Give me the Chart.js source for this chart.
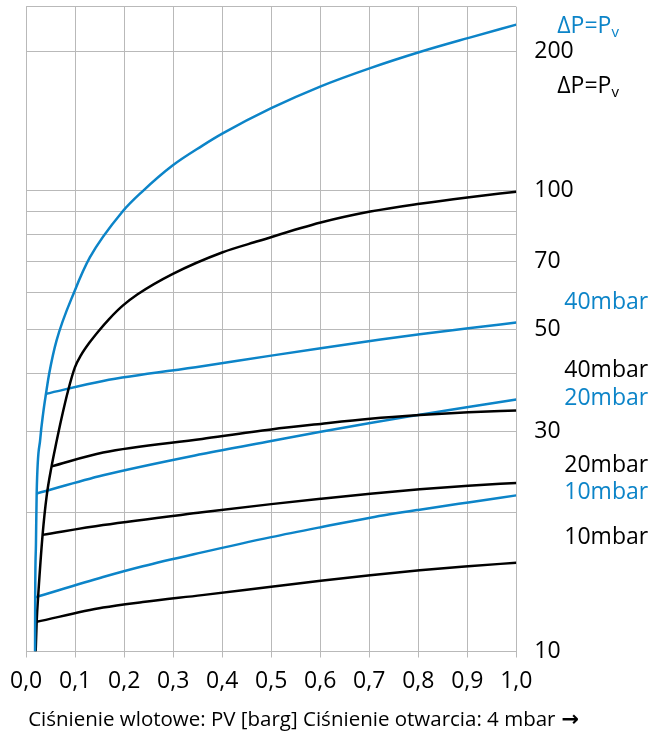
<!DOCTYPE html>
<html>
<head>
<meta charset="utf-8">
<script src="https://cdn.jsdelivr.net/npm/chart.js@4/dist/chart.umd.min.js"></script>
<style>
  html, body { margin: 0; padding: 0; background: #fff; }
  #wrap { width: 657px; height: 732px; }
</style>
</head>
<body>
<div id="wrap"><canvas id="chart"></canvas></div>
<script>
const BLUE = '#0c84c8';
const BLACK = '#000000';
const GRID = '#b9b9b9';
const FONT = '"Open Sans", "Noto Sans", sans-serif';

// ---------- Data (x = inlet pressure PV [barg], y = flow) ----------
const xTicks = [0, 0.1, 0.2, 0.3, 0.4, 0.5, 0.6, 0.7, 0.8, 0.9, 1.0];
const yGrid = [10, 20, 30, 40, 50, 60, 70, 80, 90, 100, 200, 250];
const yLabels = [10, 30, 50, 70, 100, 200];
const xTitle = 'Ciśnienie wlotowe: PV [barg] Ciśnienie otwarcia: 4 mbar';

// blue ΔP=Pv
const blueMainX = [0.0182, 0.0185, 0.020, 0.0215, 0.029, 0.035, 0.0405, 0.047, 0.062, 0.099, 0.130, 0.197, 0.238, 0.298, 0.359, 0.401, 0.5, 0.601, 0.702, 0.803, 0.903, 1.0];
const blueMainY = [10, 13.1, 17, 22, 29, 33, 36.2, 40.0, 47.2, 60.5, 71.5, 90, 99.6, 113, 124.8, 132.8, 150.6, 168, 184, 199.4, 214, 228.6];
// black ΔP=Pv
const blackMainX = [0.0195, 0.0215, 0.025, 0.0336, 0.0418, 0.0519, 0.0614, 0.0721, 0.0857, 0.0993, 0.112, 0.1297, 0.1485, 0.1688, 0.1971, 0.2275, 0.2984, 0.3997, 0.474, 0.601, 0.702, 0.803, 0.9, 1.0];
const blackMainY = [10, 11.6, 13.4, 17.9, 21.7, 25.2, 28.3, 32.0, 36.8, 41.25, 43.9, 46.8, 49.6, 52.5, 56.2, 59.5, 65.8, 73.3, 77.6, 85.1, 89.9, 93.5, 96.5, 99.3];

const blue40X = [0.0405, 0.157, 0.359, 0.5, 0.601, 0.702, 0.803, 0.902, 1.0];
const blue40Y = [36.2, 38.6, 41.55, 43.8, 45.45, 47.1, 48.75, 50.2, 51.65];
const black40X = [0.0519, 0.157, 0.359, 0.5, 0.601, 0.702, 0.803, 0.902, 1.0];
const black40Y = [25.2, 27.0, 28.9, 30.3, 31.15, 31.95, 32.55, 33.0, 33.3];

const blue20X = [0.0215, 0.157, 0.359, 0.5, 0.601, 0.702, 0.803, 0.902, 1.0];
const blue20Y = [22.0, 24.1, 26.8, 28.6, 29.95, 31.3, 32.6, 33.9, 35.2];
const black20X = [0.0336, 0.157, 0.359, 0.5, 0.601, 0.702, 0.803, 0.902, 1.0];
const black20Y = [17.9, 18.8, 20.03, 20.87, 21.44, 21.99, 22.48, 22.87, 23.2];

const blue10X = [0.0185, 0.157, 0.238, 0.359, 0.5, 0.601, 0.702, 0.803, 0.902, 1.0];
const blue10Y = [13.1, 14.5, 15.3, 16.4, 17.7, 18.6, 19.5, 20.3, 21.05, 21.8];
const black10X = [0.0215, 0.157, 0.238, 0.359, 0.5, 0.601, 0.702, 0.803, 0.902, 1.0];
const black10Y = [11.6, 12.45, 12.8, 13.25, 13.82, 14.24, 14.64, 15.0, 15.3, 15.58];

// series names shown right of the plot, anchored at a y value
const seriesLabels = [
  { text: 'ΔP=P', sub: 'v', color: BLUE, at: 226, dx: 41 },
  { text: 'ΔP=P', sub: 'v', color: BLACK, at: 168, dx: 41 },
  { text: '40mbar', color: BLUE, at: 57.0, dx: 48 },
  { text: '40mbar', color: BLACK, at: 40.6, dx: 48 },
  { text: '20mbar', color: BLUE, at: 35.3, dx: 48 },
  { text: '20mbar', color: BLACK, at: 25.3, dx: 48 },
  { text: '10mbar', color: BLUE, at: 22.1, dx: 48 },
  { text: '10mbar', color: BLACK, at: 17.7, dx: 48 },
];

function pts(xs, ys) {
  return xs.map((x, i) => ({ x, y: ys[i] }));
}

function line(xs, ys, color) {
  return {
    data: pts(xs, ys),
    borderColor: color,
    borderWidth: 2.5,
    pointRadius: 0,
    cubicInterpolationMode: 'monotone',
    fill: false,
  };
}

const labelPlugin = {
  id: 'seriesLabels',
  afterDraw(chart) {
    const { ctx, chartArea } = chart;
    const y = chart.scales.y;
    ctx.save();
    ctx.textBaseline = 'middle';
    ctx.textAlign = 'left';
    for (const l of seriesLabels) {
      const px = chartArea.right + l.dx;
      const py = y.getPixelForValue(l.at);
      ctx.fillStyle = l.color;
      ctx.font = `23px ${FONT}`;
      ctx.fillText(l.text, px, py);
      if (l.sub) {
        const w = ctx.measureText(l.text).width;
        ctx.font = `15px ${FONT}`;
        ctx.fillText(l.sub, px + w, py + 6);
      }
    }

    // x axis caption with a heavier arrow
    const tx = chartArea.left + 2;
    const ty = chartArea.bottom + 69;
    ctx.fillStyle = '#000';
    ctx.font = `20.5px ${FONT}`;
    ctx.fillText(xTitle, tx, ty);
    const tw = ctx.measureText(xTitle).width;
    ctx.font = 'bold 21px "DejaVu Sans", sans-serif';
    ctx.fillText('→', tx + tw + 6, ty);
    ctx.restore();
  },
};

new Chart(document.getElementById('chart'), {
  type: 'line',
  data: {
    datasets: [
      line(blueMainX, blueMainY, BLUE),
      line(blackMainX, blackMainY, BLACK),
      line(blue40X, blue40Y, BLUE),
      line(black40X, black40Y, BLACK),
      line(blue20X, blue20Y, BLUE),
      line(black20X, black20Y, BLACK),
      line(blue10X, blue10Y, BLUE),
      line(black10X, black10Y, BLACK),
    ],
  },
  options: {
    responsive: true,
    maintainAspectRatio: false,
    animation: false,
    events: [],
    layout: { padding: { left: 22.7, top: 6.7, right: 0, bottom: 0 } },
    plugins: {
      legend: { display: false },
      tooltip: { enabled: false },
    },
    scales: {
      x: {
        type: 'linear',
        min: 0,
        max: 1,
        afterBuildTicks: (s) => { s.ticks = xTicks.map((v) => ({ value: v })); },
        afterFit: (s) => { s.height = 80.5; },
        grid: { color: GRID, lineWidth: 1, tickLength: 6, tickColor: GRID },
        border: { display: false },
        ticks: {
          color: '#000',
          font: { family: FONT, size: 23 },
          padding: 10,
          maxRotation: 0,
          autoSkip: false,
          callback: (v) => v.toFixed(1).replace('.', ','),
        },
      },
      y: {
        type: 'logarithmic',
        position: 'right',
        min: 10,
        max: 250,
        afterBuildTicks: (s) => { s.ticks = yGrid.map((v) => ({ value: v })); },
        afterFit: (s) => {
          s.width = 140.7;
          s.paddingTop = 0;
          s.paddingBottom = 0;
        },
        grid: { color: GRID, lineWidth: 1, drawTicks: false },
        border: { display: false },
        ticks: {
          color: '#000',
          font: { family: FONT, size: 23 },
          padding: 18,
          autoSkip: false,
          callback: (v) => (yLabels.includes(v) ? String(v) : ''),
        },
      },
    },
  },
  plugins: [labelPlugin],
});
</script>
</body>
</html>
